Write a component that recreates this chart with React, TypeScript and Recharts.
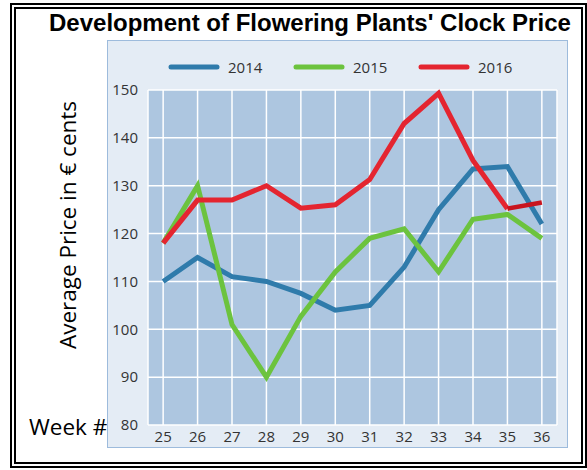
import React from 'react';
import { CartesianGrid, Legend, Line, LineChart, XAxis, YAxis } from 'recharts';

const weeks = [25, 26, 27, 28, 29, 30, 31, 32, 33, 34, 35, 36];
const price2014 = [110, 115, 111, 110, 107.5, 104, 105, 113, 125, 133.5, 134, 122];
const price2015 = [118, 130, 101, 90, 102.7, 112, 119, 121, 112, 123, 124, 119];
const price2016 = [118, 127, 127, 130, 125.3, 126, 131.3, 143, 149.3, 135.3, 125.2, 126.5];
const yTicks = [80, 90, 100, 110, 120, 130, 140, 150];

const series = [
  { key: 'y2014', name: '2014', color: '#2f7bab' },
  { key: 'y2015', name: '2015', color: '#6cc33e' },
  { key: 'y2016', name: '2016', color: '#e42530' },
];

const data = weeks.map((week, i) => ({
  week,
  y2014: price2014[i],
  y2015: price2015[i],
  y2016: price2016[i],
}));

const tickFont = { fontFamily: 'Open Sans', fontSize: 15, fill: '#333' };

const LegendRow = () => (
  <div style={{ display: 'flex', height: 20, alignItems: 'center', fontFamily: 'Open Sans', fontSize: 15, color: '#333' }}>
    {series.map((s) => (
      <div key={s.key} style={{ display: 'flex', alignItems: 'center', width: 125 }}>
        <svg width={52} height={8}>
          <line x1={3} y1={4} x2={49} y2={4} stroke={s.color} strokeWidth={5} strokeLinecap="round" />
        </svg>
        <span style={{ marginLeft: 8 }}>{s.name}</span>
      </div>
    ))}
  </div>
);

export default function App() {
  return (
    <div style={{ position: 'absolute', left: 0, top: 0, width: 587, height: 470, background: '#fff' }}>
      <div
        style={{
          position: 'absolute',
          left: 10,
          top: 3,
          width: 577,
          height: 465,
          boxSizing: 'border-box',
          border: '6px double #000',
        }}
      />
      <div
        style={{
          position: 'absolute',
          left: 49,
          top: 9,
          fontFamily: 'Liberation Sans',
          fontWeight: 'bold',
          fontSize: 24,
          color: '#000',
          whiteSpace: 'nowrap',
        }}
      >
        Development of Flowering Plants' Clock Price
      </div>
      <div
        style={{
          position: 'absolute',
          left: 67,
          top: 225,
          transform: 'translate(-50%, -50%) rotate(-90deg)',
          fontFamily: 'Open Sans',
          fontSize: 22.5,
          color: '#000',
          whiteSpace: 'nowrap',
        }}
      >
        Average Price in € cents
      </div>
      <div
        style={{
          position: 'absolute',
          left: 29,
          top: 411,
          fontFamily: 'Open Sans',
          fontSize: 22.5,
          color: '#000',
          whiteSpace: 'nowrap',
        }}
      >
        Week #
      </div>
      <div
        style={{
          position: 'absolute',
          left: 107,
          top: 40,
          width: 461,
          height: 408,
          boxSizing: 'border-box',
          background: '#e4ecf5',
          border: '1px solid #9dbbdc',
        }}
      >
        <LineChart width={459} height={406} data={data} margin={{ top: 29, right: 10, bottom: 2, left: 10 }}>
          <CartesianGrid stroke="#ffffff" strokeWidth={1.5} fill="#adc6e0" fillOpacity={1} />
          <XAxis
            dataKey="week"
            type="number"
            domain={[24.56, 36.44]}
            ticks={weeks}
            axisLine={false}
            tickLine={false}
            tickSize={0}
            tickMargin={6}
            height={20}
            tick={tickFont}
          />
          <YAxis
            type="number"
            domain={[80, 150]}
            ticks={yTicks}
            axisLine={false}
            tickLine={false}
            tickSize={0}
            tickMargin={10}
            width={30}
            tick={tickFont}
          />
          <Legend
            verticalAlign="top"
            height={20}
            wrapperStyle={{ top: 16, left: 60, width: 'auto' }}
            content={() => <LegendRow />}
          />
          <Line dataKey="y2014" name="2014" stroke="#2f7bab" strokeWidth={5} dot={false} isAnimationActive={false} />
          <Line dataKey="y2015" name="2015" stroke="#6cc33e" strokeWidth={5} dot={false} isAnimationActive={false} />
          <Line
            dataKey={(d: { week: number; y2016: number }) => (d.week <= 35 ? d.y2016 : null)}
            name="2016"
            stroke="#e42530"
            strokeWidth={5}
            dot={false}
            isAnimationActive={false}
          />
          <Line
            dataKey={(d: { week: number; y2016: number }) => (d.week >= 35 ? d.y2016 : null)}
            name="2016 tail"
            stroke="#c8141e"
            strokeWidth={4.5}
            dot={false}
            legendType="none"
            isAnimationActive={false}
          />
        </LineChart>
      </div>
    </div>
  );
}
